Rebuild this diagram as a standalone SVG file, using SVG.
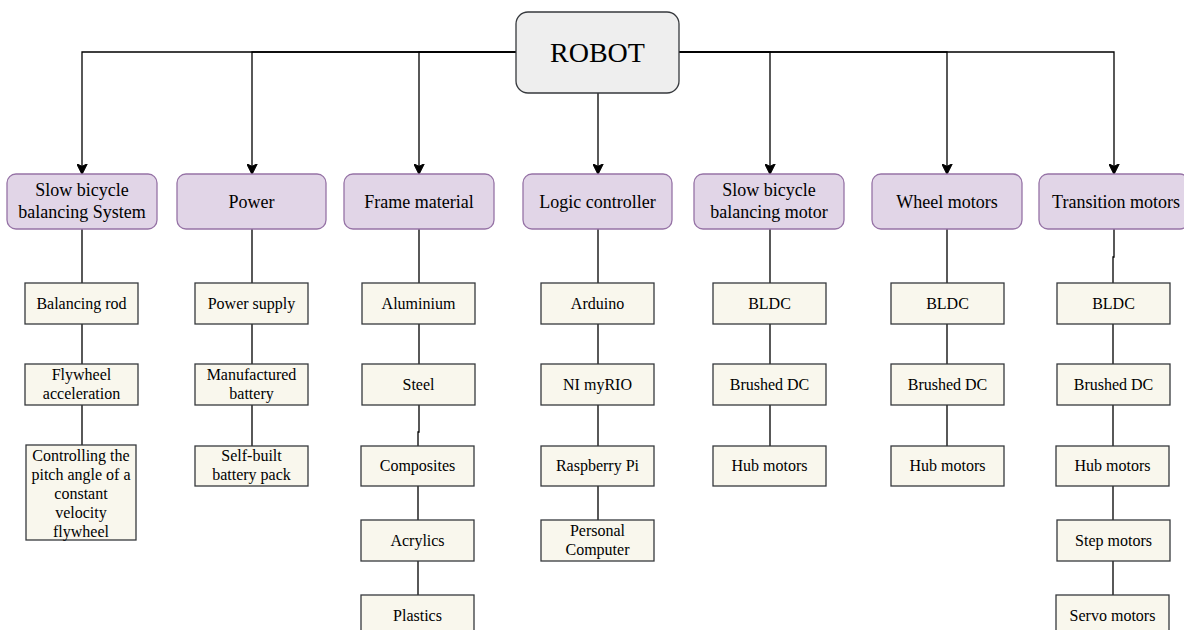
<svg xmlns="http://www.w3.org/2000/svg" width="1184" height="630" viewBox="0 0 1184 630">
<style>
.root{fill:#eeeeee;stroke:#36393d;stroke-width:1.3}
.cat{fill:#e1d5e7;stroke:#9673a6;stroke-width:1.3}
.leaf{fill:#f9f7ed;stroke:#36393d;stroke-width:1.3}
.t{font-family:"Liberation Serif","Times New Roman",serif;fill:#000;text-anchor:middle}
.t28{font-size:28px}
.t18{font-size:18px}
.t16{font-size:16px}
.c{fill:none;stroke:#000;stroke-width:1.3}
</style>
<defs>
<marker id="arr" markerUnits="userSpaceOnUse" viewBox="0 0 10 10" markerWidth="11" markerHeight="11" refX="9.5" refY="5" orient="auto">
<path d="M0,0 L10,5 L0,10 L2.5,5 Z" fill="#000" stroke="#000" stroke-width="0.8"/>
</marker>
</defs>
<rect width="1184" height="630" fill="#ffffff"/>
<g id="connectors">
<path class="c" d="M516,52 H82 V174" marker-end="url(#arr)"/>
<path class="c" d="M516,52 H252 V174" marker-end="url(#arr)"/>
<path class="c" d="M516,52 H419 V174" marker-end="url(#arr)"/>
<path class="c" d="M598,93 V174" marker-end="url(#arr)"/>
<path class="c" d="M679,52 H770 V174" marker-end="url(#arr)"/>
<path class="c" d="M679,52 H947 V174" marker-end="url(#arr)"/>
<path class="c" d="M679,52 H1114 V174" marker-end="url(#arr)"/>
<path class="c" d="M82,229 V283 M82,324 V364 M82,405 V445"/>
<path class="c" d="M252,229 V283 M252,324 V364 M252,405 V446"/>
<path class="c" d="M419,229 V283 M419,324 V364 M419,405 V432 H418 V446 M418,486 V520 M418,561 V595"/>
<path class="c" d="M598,229 V283 M598,324 V364 M598,405 V446 M598,486 V520"/>
<path class="c" d="M770,229 V283 M770,324 V364 M770,405 V446"/>
<path class="c" d="M947,229 V283 M947,324 V364 M947,405 V446"/>
<path class="c" d="M1114,229 V257 H1113 V283 M1113,324 V364 M1113,405 V446 M1113,486 V520 M1113,561 V595"/>
</g>
<g id="robot">
<rect class="root" x="516" y="12" width="163" height="81" rx="12"/>
<text class="t t28" x="597.5" y="62">ROBOT</text>
</g>
<g id="cat-balancing-system">
<rect class="cat" x="7" y="174" width="150" height="55" rx="9"/>
<text class="t t18" x="82" y="196">Slow bicycle</text>
<text class="t t18" x="82" y="218">balancing System</text>
</g>
<g id="cat-power">
<rect class="cat" x="177" y="174" width="149" height="55" rx="9"/>
<text class="t t18" x="251.5" y="208">Power</text>
</g>
<g id="cat-frame">
<rect class="cat" x="344" y="174" width="150" height="55" rx="9"/>
<text class="t t18" x="419" y="208">Frame material</text>
</g>
<g id="cat-logic">
<rect class="cat" x="523" y="174" width="149" height="55" rx="9"/>
<text class="t t18" x="597.5" y="208">Logic controller</text>
</g>
<g id="cat-balancing-motor">
<rect class="cat" x="694" y="174" width="150" height="55" rx="9"/>
<text class="t t18" x="769" y="196">Slow bicycle</text>
<text class="t t18" x="769" y="218">balancing motor</text>
</g>
<g id="cat-wheel">
<rect class="cat" x="872" y="174" width="150" height="55" rx="9"/>
<text class="t t18" x="947" y="208">Wheel motors</text>
</g>
<g id="cat-transition">
<rect class="cat" x="1039" y="174" width="150" height="55" rx="9"/>
<text class="t t18" x="1116" y="208">Transition motors</text>
</g>
<g id="leaf-balancing-rod"><rect class="leaf" x="25" y="283" width="113" height="41"/><text class="t t16" x="81.5" y="309">Balancing rod</text></g>
<g id="leaf-flywheel-acc"><rect class="leaf" x="25" y="364" width="113" height="41"/><text class="t t16" x="81.5" y="380">Flywheel</text><text class="t t16" x="81.5" y="399">acceleration</text></g>
<g id="leaf-pitch"><rect class="leaf" x="26" y="445" width="110" height="95"/>
<text class="t t16" x="81" y="461">Controlling the</text>
<text class="t t16" x="81" y="480">pitch angle of a</text>
<text class="t t16" x="81" y="499">constant</text>
<text class="t t16" x="81" y="518">velocity</text>
<text class="t t16" x="81" y="537">flywheel</text></g>
<g id="leaf-power-supply"><rect class="leaf" x="195" y="283" width="113" height="41"/><text class="t t16" x="251.5" y="309">Power supply</text></g>
<g id="leaf-manufactured"><rect class="leaf" x="195" y="364" width="113" height="41"/><text class="t t16" x="251.5" y="380">Manufactured</text><text class="t t16" x="251.5" y="399">battery</text></g>
<g id="leaf-selfbuilt"><rect class="leaf" x="195" y="446" width="113" height="40"/><text class="t t16" x="251.5" y="461">Self-built</text><text class="t t16" x="251.5" y="480">battery pack</text></g>
<g id="leaf-aluminium"><rect class="leaf" x="362" y="283" width="113" height="41"/><text class="t t16" x="418.5" y="309">Aluminium</text></g>
<g id="leaf-steel"><rect class="leaf" x="362" y="364" width="113" height="41"/><text class="t t16" x="418.5" y="390">Steel</text></g>
<g id="leaf-composites"><rect class="leaf" x="361" y="446" width="113" height="40"/><text class="t t16" x="417.5" y="471">Composites</text></g>
<g id="leaf-acrylics"><rect class="leaf" x="361" y="520" width="113" height="41"/><text class="t t16" x="417.5" y="546">Acrylics</text></g>
<g id="leaf-plastics"><rect class="leaf" x="361" y="595" width="113" height="41"/><text class="t t16" x="417.5" y="621">Plastics</text></g>
<g id="leaf-arduino"><rect class="leaf" x="541" y="283" width="113" height="41"/><text class="t t16" x="597.5" y="309">Arduino</text></g>
<g id="leaf-myrio"><rect class="leaf" x="541" y="364" width="113" height="41"/><text class="t t16" x="597.5" y="390">NI myRIO</text></g>
<g id="leaf-raspberry"><rect class="leaf" x="541" y="446" width="113" height="40"/><text class="t t16" x="597.5" y="471">Raspberry Pi</text></g>
<g id="leaf-pc"><rect class="leaf" x="541" y="520" width="113" height="41"/><text class="t t16" x="597.5" y="536">Personal</text><text class="t t16" x="597.5" y="555">Computer</text></g>
<g id="leaf-bm-bldc"><rect class="leaf" x="713" y="283" width="113" height="41"/><text class="t t16" x="769.5" y="309">BLDC</text></g>
<g id="leaf-bm-brushed"><rect class="leaf" x="713" y="364" width="113" height="41"/><text class="t t16" x="769.5" y="390">Brushed DC</text></g>
<g id="leaf-bm-hub"><rect class="leaf" x="713" y="446" width="113" height="40"/><text class="t t16" x="769.5" y="471">Hub motors</text></g>
<g id="leaf-w-bldc"><rect class="leaf" x="891" y="283" width="113" height="41"/><text class="t t16" x="947.5" y="309">BLDC</text></g>
<g id="leaf-w-brushed"><rect class="leaf" x="891" y="364" width="113" height="41"/><text class="t t16" x="947.5" y="390">Brushed DC</text></g>
<g id="leaf-w-hub"><rect class="leaf" x="891" y="446" width="113" height="40"/><text class="t t16" x="947.5" y="471">Hub motors</text></g>
<g id="leaf-t-bldc"><rect class="leaf" x="1057" y="283" width="113" height="41"/><text class="t t16" x="1113.5" y="309">BLDC</text></g>
<g id="leaf-t-brushed"><rect class="leaf" x="1057" y="364" width="113" height="41"/><text class="t t16" x="1113.5" y="390">Brushed DC</text></g>
<g id="leaf-t-hub"><rect class="leaf" x="1056" y="446" width="113" height="40"/><text class="t t16" x="1112.5" y="471">Hub motors</text></g>
<g id="leaf-t-step"><rect class="leaf" x="1057" y="520" width="113" height="41"/><text class="t t16" x="1113.5" y="546">Step motors</text></g>
<g id="leaf-t-servo"><rect class="leaf" x="1056" y="595" width="113" height="41"/><text class="t t16" x="1112.5" y="621">Servo motors</text></g>
</svg>
